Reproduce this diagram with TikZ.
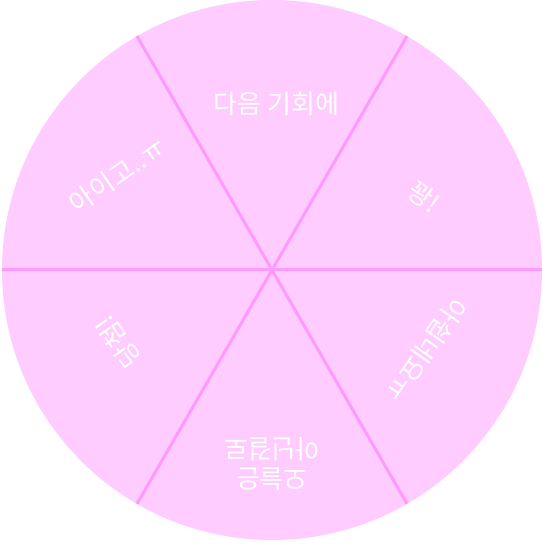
\documentclass[tikz,border=0pt]{standalone}
\usepackage{fontspec}
\newfontfamily\krfont{Noto Sans CJK KR}
\definecolor{wheelfill}{HTML}{FFCCFF}
\definecolor{wheelline}{HTML}{FF99FF}
\begin{document}
\begin{tikzpicture}[x=1pt,y=1pt,
  lbl/.style={text=white, font=\krfont\fontsize{26}{30}\selectfont, align=center, inner sep=0pt},
  divider/.style={draw=wheelline, line width=3pt}]
\useasboundingbox (0,0) rectangle (543,547);
\coordinate (c) at (272,277);
\fill[wheelfill] (c) circle (270);
\foreach \a in {0,60,...,300} {
  \path (c) ++(\a:270) coordinate (e\a);
  \draw[divider] (c) -- (e\a);
}
\node[lbl] (t1) at (276.5,443) {다음 기회에};
\node[lbl, rotate=-35] (t2) at (424,350) {꽝!};
\node[lbl, rotate=-125] (t3) at (426,197) {아쉽네요ㅠ};
\node[lbl, rotate=180] (t4) at (272,83) {오늘은\\아닌걸로};
\node[lbl, rotate=125] (t5) at (118,205) {당첨!};
\node[lbl, rotate=35] (t6) at (117.5,372) {아이고..ㅠ};
\end{tikzpicture}
\end{document}
